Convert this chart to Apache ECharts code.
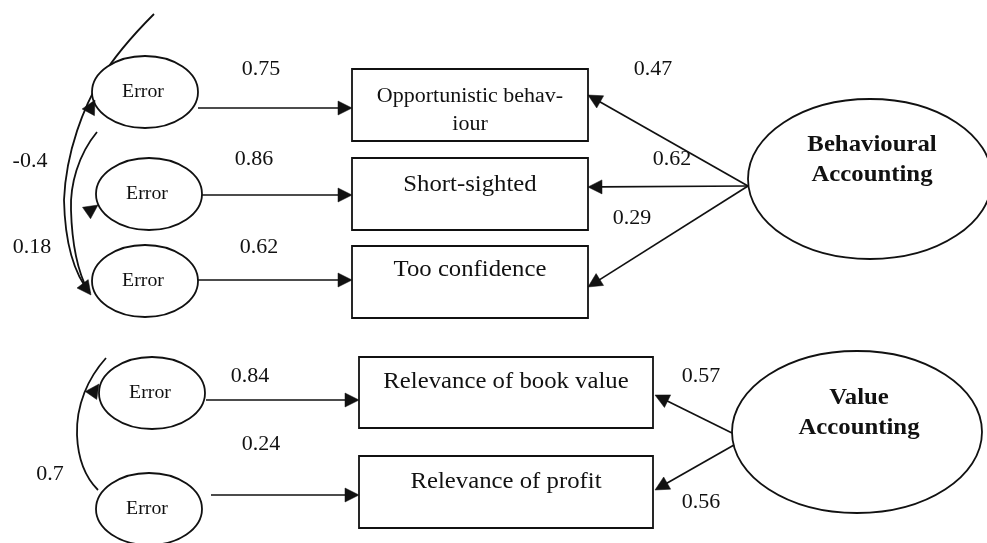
<!DOCTYPE html>
<html><head><meta charset="utf-8">
<script src="https://cdn.jsdelivr.net/npm/echarts@6/dist/echarts.min.js"></script>
<style>html,body{margin:0;padding:0;background:#fff}#c{width:987px;height:543px}</style>
</head><body><div id="c"></div>
<script>
// ---------- chart values ----------
const indicators = ['Opportunistic behav-\niour', 'Short-sighted', 'Too confidence', 'Relevance of book value', 'Relevance of profit'];
const errorNames = ['Error', 'Error', 'Error', 'Error', 'Error'];
const errorWeights = [0.75, 0.86, 0.62, 0.84, 0.24];
const factors = ['Behavioural\nAccounting', 'Value\nAccounting'];
const loadings = [0.47, 0.62, 0.29, 0.57, 0.56];
const loadingFactor = [0, 0, 0, 1, 1];
const covariances = [-0.4, 0.18, 0.7];

// ---------- layout (diagram coordinates, px) ----------
const errorCenters = [[145, 92], [149, 194], [145, 281], [152, 393], [149, 509]];
const errorRadius = [53, 36];
const errorArrowY = [108, 195, 280, 400, 495];
const errorArrowX0 = [198, 202, 198, 206, 211];
const errorLabelPos = [[261, 70], [254, 160], [259, 248], [250, 377], [261, 445]];
const boxes = [[352, 69, 588, 141], [352, 158, 588, 230], [352, 246, 588, 318], [359, 357, 653, 428], [359, 456, 653, 528]];
const boxTextY = [97, 185, 270, 382, 482];
const boxFont = [20, 22.5, 22.5, 22.5, 22.5];
const factorEllipses = [[870, 179, 122, 80], [857, 432, 125, 81]];
const factorTextPos = [[872, 145], [859, 398]];
const loadingFrom = [[748, 186], [748, 186], [748, 186], [732, 433], [734, 445]];
const loadingTo = [[588, 95], [588, 187], [588, 287], [655, 395], [655, 490]];
const loadingLabelPos = [[653, 70], [672, 160], [632, 219], [701, 377], [701, 503]];
const covLabelPos = [[30, 162], [32, 248], [50, 475]];
// each curve: start point followed by cubic segments (cp1, cp2, end)
const covCurves = [
  [[154, 14], [135, 33], [115, 55], [100, 80], [85, 105], [66, 150], [64, 200], [65, 245], [75, 275], [90, 293]],
  [[97, 132], [78, 155], [70, 185], [71, 210], [72, 245], [78, 272], [88, 291]],
  [[106, 358], [88, 378], [76, 405], [77, 435], [78, 460], [86, 478], [98, 490]]
];
// arrowheads on the curves: [tip, point behind tip]
const covHeads = [
  [[95, 100], [89, 111]], [[91, 295], [82, 283]], [[98, 205], [88, 212]],
  [[99, 384], [92, 394]]
];

const INK = '#111';
const SERIF = '"Liberation Serif","Times New Roman",serif';
const SX = 1.1;

function head(api, tip, from, len, hw) {
  const dx = tip[0] - from[0], dy = tip[1] - from[1];
  const d = Math.hypot(dx, dy), ux = dx / d, uy = dy / d;
  const bx = tip[0] - ux * len, by = tip[1] - uy * len;
  return {
    type: 'polygon',
    shape: { points: [tip, [bx - uy * hw, by + ux * hw], [bx + uy * hw, by - ux * hw]].map(p => api.coord(p)) },
    style: { fill: INK, stroke: INK, lineWidth: 0.5 }
  };
}
function txt(api, x, y, s, size, bold) {
  const p = api.coord([x, y]);
  return { type: 'text', x: p[0], y: p[1], scaleX: SX,
    style: { text: s, font: (bold ? 'bold ' : '') + size + 'px ' + SERIF, fill: INK, align: 'center', verticalAlign: 'middle' } };
}
function ell(api, cx, cy, rx, ry) {
  const c = api.coord([cx, cy]);
  const e = api.coord([cx + rx, cy + ry]);
  return { type: 'ellipse', shape: { cx: c[0], cy: c[1], rx: e[0] - c[0], ry: e[1] - c[1] },
    style: { fill: '#fff', stroke: INK, lineWidth: 1.8 } };
}
function seg(api, a, b) {
  const p = api.coord(a), q = api.coord(b);
  return { type: 'line', shape: { x1: p[0], y1: p[1], x2: q[0], y2: q[1] }, style: { stroke: INK, lineWidth: 1.7 } };
}

const option = {
  backgroundColor: '#fff',
  animation: false,
  grid: { left: 0, right: 0, top: 0, bottom: 0 },
  xAxis: { type: 'value', min: 0, max: 987, show: false },
  yAxis: { type: 'value', min: 0, max: 543, inverse: true, show: false },
  series: [
    { // covariance curves
      type: 'custom', name: 'covariances', z: 1,
      data: covCurves.map((_, i) => [i]),
      renderItem: (params, api) => {
        const c = covCurves[params.dataIndex].map(p => api.coord(p));
        let d = 'M' + c[0].join(',');
        for (let k = 1; k + 2 < c.length; k += 3) {
          d += ' C' + c[k].join(',') + ' ' + c[k + 1].join(',') + ' ' + c[k + 2].join(',');
        }
        return { type: 'path', shape: { pathData: d }, style: { fill: null, stroke: INK, lineWidth: 1.8 } };
      }
    },
    { // error ellipses and their paths
      type: 'custom', name: 'errors', z: 2,
      data: errorNames.map((_, i) => [i]),
      renderItem: (params, api) => {
        const i = params.dataIndex, c = errorCenters[i];
        const y = errorArrowY[i], x1 = boxes[i][0];
        return { type: 'group', children: [
          ell(api, c[0], c[1], errorRadius[0], errorRadius[1]),
          txt(api, c[0] - 2, c[1], errorNames[i], 18, false),
          seg(api, [errorArrowX0[i], y], [x1 - 12, y]),
          head(api, [x1, y], [errorArrowX0[i], y], 14, 7),
          txt(api, errorLabelPos[i][0], errorLabelPos[i][1], String(errorWeights[i]), 20, false)
        ] };
      }
    },
    { // arrowheads on covariance curves
      type: 'custom', name: 'covHeads', z: 3,
      data: covHeads.map((_, i) => [i]),
      renderItem: (params, api) => head(api, covHeads[params.dataIndex][0], covHeads[params.dataIndex][1], 14, 7)
    },
    { // covariance labels
      type: 'custom', name: 'covLabels', z: 3,
      data: covariances.map((_, i) => [i]),
      renderItem: (params, api) => {
        const i = params.dataIndex;
        return txt(api, covLabelPos[i][0], covLabelPos[i][1], String(covariances[i]), 20, false);
      }
    },
    { // indicator boxes
      type: 'custom', name: 'indicators', z: 2,
      data: indicators.map((_, i) => [i]),
      renderItem: (params, api) => {
        const i = params.dataIndex, b = boxes[i];
        const p = api.coord([b[0], b[1]]), q = api.coord([b[2], b[3]]);
        const lines = indicators[i].split('\n');
        const kids = [{ type: 'rect', shape: { x: p[0], y: p[1], width: q[0] - p[0], height: q[1] - p[1] },
          style: { fill: '#fff', stroke: INK, lineWidth: 1.8 } }];
        lines.forEach((s, k) => kids.push(txt(api, (b[0] + b[2]) / 2, boxTextY[i] + k * 28, s, boxFont[i], false)));
        return { type: 'group', children: kids };
      }
    },
    { // factor ellipses
      type: 'custom', name: 'factors', z: 2,
      data: factors.map((_, i) => [i]),
      renderItem: (params, api) => {
        const i = params.dataIndex, e = factorEllipses[i], t = factorTextPos[i];
        const lines = factors[i].split('\n');
        const kids = [ell(api, e[0], e[1], e[2], e[3])];
        lines.forEach((s, k) => kids.push(txt(api, t[0], t[1] + k * 30, s, 22.5, true)));
        return { type: 'group', children: kids };
      }
    },
    { // factor loadings
      type: 'custom', name: 'loadings', z: 3,
      data: loadings.map((_, i) => [i]),
      renderItem: (params, api) => {
        const i = params.dataIndex, a = loadingFrom[i], b = loadingTo[i];
        const dx = b[0] - a[0], dy = b[1] - a[1], d = Math.hypot(dx, dy);
        const e = [b[0] - dx / d * 12, b[1] - dy / d * 12];
        return { type: 'group', children: [
          seg(api, a, e),
          head(api, b, a, 14, 7),
          txt(api, loadingLabelPos[i][0], loadingLabelPos[i][1], String(loadings[i]), 20, false)
        ] };
      }
    }
  ]
};
const chart = echarts.init(document.getElementById('c'));
chart.setOption(option);
</script>
</body></html>
